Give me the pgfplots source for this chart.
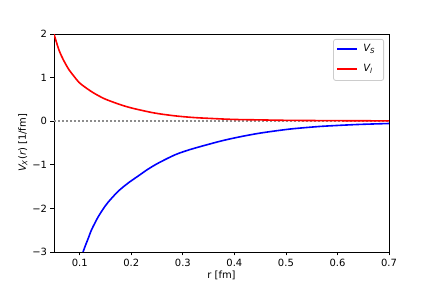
\documentclass[border=0pt]{standalone}
\usepackage{fontspec}
\setmainfont{DejaVu Sans}
\usepackage{pgfplots}
\pgfplotsset{compat=1.18}
\begin{document}
\fontsize{10}{12}\selectfont
\begin{tikzpicture}[x=1bp,y=1bp]
\path[use as bounding box] (0,0) rectangle (432,288);
\begin{axis}[
  at={(54bp,36bp)}, anchor=south west, scale only axis,
  width=335bp, height=218bp,
  xmin=0.05, xmax=0.7, ymin=-3, ymax=2,
  xtick={0.1,0.2,0.3,0.4,0.5,0.6,0.7},
  xticklabels={0.1,0.2,0.3,0.4,0.5,0.6,0.7},
  ytick={-3,-2,-1,0,1,2},
  yticklabels={−3,−2,−1,0,1,2},
  tick align=outside, tick pos=left,
  major tick length=3.5bp,
  every tick/.style={black, line width=0.8bp},
  axis line style={line width=0.8bp},
  ticklabel style={font=\fontsize{10}{12}\selectfont},
  xlabel={r [fm]},
  ylabel={{\itshape V}\textsubscript{\itshape X}({\itshape r}) [1/fm]},
  label style={font=\fontsize{10}{12}\selectfont},
  xlabel style={yshift=2bp},
  ylabel style={yshift=-2bp},
]
\addplot[black!45, line width=1.5bp, dash pattern=on 1.5bp off 2.5bp, forget plot] coordinates {(0.05,0) (0.7,0)};
\addplot[blue, line width=1.6bp, smooth, forget plot] coordinates {
(0.1063,-3.00) (0.111,-2.85) (0.116,-2.70) (0.1225,-2.50) (0.1296,-2.33) (0.1354,-2.20) (0.145,-2.02) (0.1549,-1.86)
(0.1743,-1.61) (0.1937,-1.42) (0.213,-1.26) (0.2325,-1.10) (0.2525,-0.96) (0.285,-0.77)
(0.314,-0.65) (0.35,-0.53) (0.379,-0.44) (0.41,-0.36) (0.4437,-0.285) (0.475,-0.23) (0.508,-0.18)
(0.54,-0.145) (0.573,-0.115) (0.638,-0.076) (0.7,-0.053)};
\addplot[red, line width=1.6bp, smooth, forget plot] coordinates {
(0.05,2.00) (0.0597,1.63) (0.0694,1.38) (0.0791,1.18) (0.0888,1.03)
(0.0985,0.89) (0.108,0.80) (0.115,0.74) (0.128,0.64) (0.147,0.52) (0.1665,0.43) (0.185,0.355)
(0.205,0.29) (0.244,0.19) (0.283,0.125) (0.32,0.085) (0.36,0.06)
(0.4,0.04) (0.45,0.03) (0.5,0.02) (0.6,0.012) (0.7,0.008)};
\end{axis}
% legend
\node[draw=black!20, line width=0.8bp, rounded corners=2bp, fill=white, anchor=north east,
      minimum width=50bp, minimum height=41bp, inner sep=0pt] (leg) at (384,249) {};
\draw[blue, line width=1.6bp] ([xshift=4bp,yshift=-10bp]leg.north west) -- ++(20bp,0);
\node[anchor=west, inner sep=0pt] at ([xshift=30bp,yshift=-10bp]leg.north west) {{\itshape V}\textsubscript{\itshape S}};
\draw[red, line width=1.6bp] ([xshift=4bp,yshift=-30bp]leg.north west) -- ++(20bp,0);
\node[anchor=west, inner sep=0pt] at ([xshift=30bp,yshift=-30bp]leg.north west) {{\itshape V}\textsubscript{\itshape l}};
\end{tikzpicture}
\end{document}
